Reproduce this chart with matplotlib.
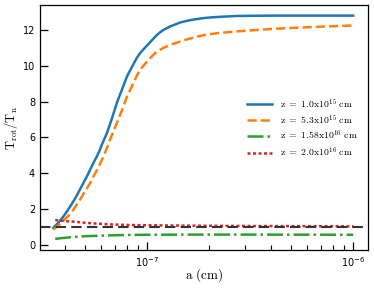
import matplotlib
matplotlib.use("Agg")
import matplotlib.pyplot as plt
from matplotlib.font_manager import FontProperties
import numpy as np

# grain size a (cm), as log10 values
blue_loga = [-7.455, -7.43, -7.41, -7.39, -7.372, -7.355, -7.34, -7.325, -7.308, -7.29,
             -7.275, -7.26, -7.243, -7.23, -7.22, -7.207, -7.194, -7.182, -7.17, -7.158,
             -7.146, -7.133, -7.12, -7.108, -7.097, -7.08, -7.065, -7.05, -7.033, -7.01,
             -6.99, -6.97, -6.951, -6.935, -6.92, -6.9, -6.887, -6.86, -6.838, -6.81,
             -6.78, -6.75, -6.727, -6.69, -6.65, -6.6, -6.563, -6.5, -6.4, -6.2, -6.0]
blue_T = [0.93, 1.22, 1.5, 1.82, 2.14, 2.45, 2.75, 3.08, 3.45, 3.84,
          4.2, 4.56, 4.93, 5.25, 5.55, 5.9, 6.24, 6.64, 7.05, 7.48,
          7.92, 8.32, 8.7, 9.06, 9.4, 9.77, 10.1, 10.42, 10.71, 11.0,
          11.25, 11.5, 11.73, 11.88, 12.0, 12.12, 12.2, 12.32, 12.42, 12.5,
          12.57, 12.62, 12.66, 12.7, 12.73, 12.76, 12.78, 12.79, 12.8, 12.8, 12.8]

orange_loga = [-7.455, -7.43, -7.41, -7.38, -7.356, -7.34, -7.32, -7.3, -7.275, -7.26,
               -7.243, -7.227, -7.211, -7.195, -7.18, -7.163, -7.146, -7.133, -7.12, -7.108,
               -7.097, -7.08, -7.065, -7.05, -7.033, -7.01, -6.99, -6.97, -6.951, -6.92,
               -6.887, -6.86, -6.838, -6.81, -6.78, -6.75, -6.727, -6.69, -6.65, -6.6,
               -6.563, -6.48, -6.402, -6.32, -6.242, -6.12, -6.0]
orange_T = [0.84, 1.06, 1.3, 1.62, 1.96, 2.26, 2.6, 2.98, 3.45, 3.8,
            4.15, 4.53, 4.93, 5.38, 5.85, 6.32, 6.8, 7.18, 7.55, 7.92,
            8.28, 8.68, 9.05, 9.43, 9.78, 10.1, 10.35, 10.6, 10.8, 11.0,
            11.17, 11.27, 11.36, 11.46, 11.55, 11.65, 11.7, 11.77, 11.83, 11.88,
            11.92, 11.99, 12.05, 12.1, 12.14, 12.2, 12.25]

green_loga = [-7.445, -7.4, -7.35, -7.3, -7.2, -7.1, -7.0, -6.8, -6.5, -6.0]
green_T = [0.32, 0.38, 0.43, 0.47, 0.51, 0.54, 0.55, 0.56, 0.56, 0.55]

red_loga = [-7.445, -7.4, -7.35, -7.3, -7.25, -7.18, -7.1, -7.0, -6.8, -6.5, -6.2, -6.0]
red_T = [1.37, 1.32, 1.28, 1.22, 1.18, 1.13, 1.1, 1.08, 1.06, 1.04, 1.03, 1.02]

labels = [r"$\mathrm{z\ =\ 1.0x10^{15}\ cm}$",
          r"$\mathrm{z\ =\ 5.3x10^{15}\ cm}$",
          r"$\mathrm{z\ =\ 1.58x10^{16}\ cm}$",
          r"$\mathrm{z\ =\ 2.0x10^{16}\ cm}$"]

fig = plt.figure(figsize=(3.74, 2.88), dpi=100)
ax = fig.add_axes([0.107, 0.132, 0.877, 0.851])

ax.plot(10 ** np.array(blue_loga), blue_T, color="#1f77b4", lw=1.8, label=labels[0])
ax.plot(10 ** np.array(orange_loga), orange_T, color="#ff7f0e", lw=1.8, ls="--", label=labels[1])
ax.plot(10 ** np.array(green_loga), green_T, color="#2ca02c", lw=1.8, ls="-.", label=labels[2])
ax.plot(10 ** np.array(red_loga), red_T, color="#d62728", lw=1.8, ls=(0, (1.2, 1.0)), label=labels[3])
ax.axhline(1.0, color="#333333", lw=1.5, ls=(0, (5, 2.5)))

ax.set_xscale("log")
ax.set_xlim(3.03e-8, 1.18e-6)
ax.set_ylim(-0.3, 13.4)
ax.set_yticks([0, 2, 4, 6, 8, 10, 12])

ax.tick_params(which="both", direction="in", labelsize=7, top=False, right=False)
ax.tick_params(which="major", length=6, width=0.9)
ax.tick_params(which="minor", length=3.5, width=0.8)
for s in ax.spines.values():
    s.set_linewidth(0.9)

ax.set_xlabel(r"$\mathrm{a\ (cm)}$", fontsize=9.5, math_fontfamily="cm", labelpad=-2)
ax.set_ylabel(r"$\mathrm{T_{rot}/T_n}$", fontsize=9, math_fontfamily="cm", labelpad=2)

fp = FontProperties(size=7, math_fontfamily="cm")
ax.legend(loc="upper right", bbox_to_anchor=(0.995, 0.66), frameon=False, prop=fp,
          handlelength=2.6, handletextpad=0.8, labelspacing=0.3)

fig.savefig("out.png", dpi=100)
